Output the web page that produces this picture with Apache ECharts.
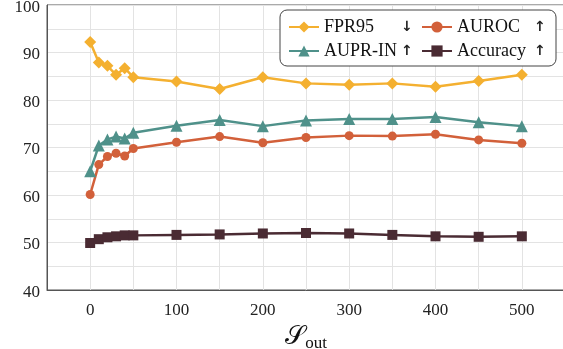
<!DOCTYPE html>
<html>
<head>
<meta charset="utf-8">
<script src="https://cdn.jsdelivr.net/npm/echarts@6/dist/echarts.min.js"></script>
<style>
  html, body { margin: 0; padding: 0; background: #fff; }
  #main { width: 563px; height: 349px; }
</style>
</head>
<body>
<div id="main"></div>
<script>
var sizes = [0, 10, 20, 30, 40, 50, 100, 150, 200, 250, 300, 350, 400, 450, 500];
var fpr95 = [92.2, 87.9, 87.2, 85.3, 86.7, 84.8, 83.9, 82.3, 84.8, 83.5, 83.2, 83.5, 82.8, 84.0, 85.3];
var auprIn = [65.0, 70.4, 71.7, 72.3, 71.9, 73.1, 74.6, 75.8, 74.5, 75.7, 76.0, 76.0, 76.4, 75.3, 74.5];
var auroc = [60.1, 66.4, 68.1, 68.8, 68.2, 69.8, 71.1, 72.3, 71.0, 72.1, 72.5, 72.4, 72.8, 71.6, 70.9];
var accuracy = [49.9, 50.7, 51.1, 51.3, 51.5, 51.5, 51.6, 51.7, 51.9, 52.0, 51.9, 51.6, 51.3, 51.2, 51.3];
var xTicks = [0, 100, 200, 300, 400, 500];
var yTicks = [40, 50, 60, 70, 80, 90, 100];
var arrows = { 'FPR95': '↓', 'AUROC': '↑', 'AUPR-IN': '↑', 'Accuracy': '↑' };

var chart = echarts.init(document.getElementById('main'));
var serif = 'Liberation Serif';
var gridLine = { color: '#e3e3e3', width: 1 };

function pairs(ys) {
  return sizes.map(function (x, i) { return [x, ys[i]]; });
}

function mkSeries(name, ys, color, symbol, size) {
  return {
    name: name,
    type: 'line',
    data: pairs(ys),
    symbol: symbol,
    symbolSize: size,
    color: color,
    lineStyle: { width: 2.5, color: color },
    itemStyle: { color: color },
    z: 3
  };
}

var option = {
  animation: false,
  backgroundColor: '#fff',
  grid: {
    left: 47, top: 5, width: 518, height: 285,
    outerBoundsMode: 'none',
    containLabel: false,
    show: true, borderColor: '#555', borderWidth: 1
  },
  legend: {
    left: 280, top: 10,
    width: 260,
    padding: [8, 8, 6, 8],
    itemGap: 6,
    itemWidth: 30,
    itemHeight: 14,
    borderColor: '#444',
    borderWidth: 1,
    borderRadius: 7,
    backgroundColor: '#fff',
    data: ['FPR95', 'AUROC', 'AUPR-IN', 'Accuracy'],
    formatter: function (name) {
      return '{n|' + name + '}{a|' + arrows[name] + '}';
    },
    textStyle: {
      fontFamily: serif,
      rich: {
        n: { fontFamily: serif, fontSize: 18, color: '#111', width: 77, lineHeight: 14 },
        a: { fontFamily: 'DejaVu Sans', fontSize: 14, fontWeight: 'bold', color: '#222', width: 14, lineHeight: 14 }
      }
    }
  },
  xAxis: {
    type: 'value',
    min: -50, max: 550, interval: 50,
    name: '{s|𝒮}{sub|out}',
    nameLocation: 'middle',
    nameGap: 25,
    nameTextStyle: {
      rich: {
        s: { fontFamily: 'DejaVu Serif', fontSize: 26, color: '#111' },
        sub: { fontFamily: serif, fontSize: 17, color: '#111', padding: [14, 0, 0, 0] }
      }
    },
    axisLine: { show: true, onZero: false, lineStyle: { color: '#555', width: 1 } },
    axisTick: { show: false },
    splitLine: { show: true, lineStyle: gridLine },
    axisLabel: {
      fontFamily: serif, fontSize: 17, color: '#222', margin: 12,
      formatter: function (v) { return xTicks.indexOf(v) >= 0 ? String(v) : ''; }
    }
  },
  yAxis: {
    type: 'value',
    min: 40, max: 100, interval: 5,
    axisLine: { show: true, onZero: false, lineStyle: { color: '#555', width: 1 } },
    axisTick: { show: false },
    splitLine: { show: true, lineStyle: gridLine },
    axisLabel: {
      margin: 7,
      formatter: function (v) { return yTicks.indexOf(v) >= 0 ? '{v|' + v + '}' : ''; },
      rich: {
        v: { fontFamily: serif, fontSize: 17, color: '#222', padding: [5, 0, 0, 0] }
      }
    }
  },
  series: [
    mkSeries('FPR95', fpr95, '#F4B030', 'diamond', 12),
    mkSeries('AUPR-IN', auprIn, '#4F918A', 'triangle', 12),
    mkSeries('AUROC', auroc, '#D2603A', 'circle', 9),
    mkSeries('Accuracy', accuracy, '#4A2B33', 'rect', 10)
  ]
};
chart.setOption(option);
</script>
</body>
</html>
